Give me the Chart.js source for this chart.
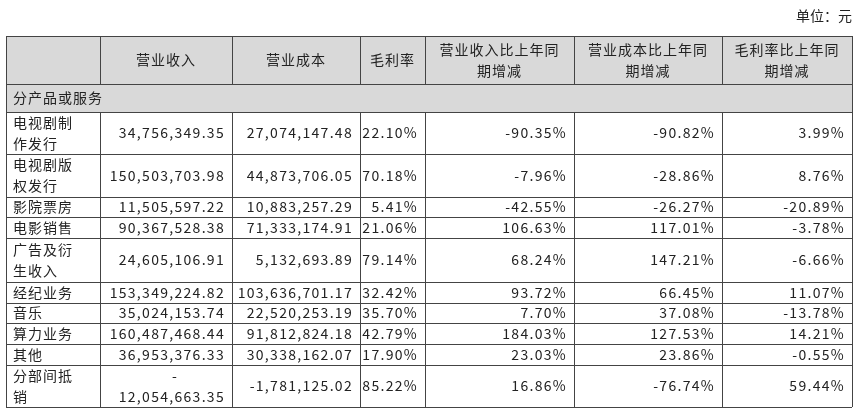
<!DOCTYPE html>
<html><head><meta charset="utf-8">
<script src="https://cdn.jsdelivr.net/npm/chart.js@4"></script>
<style>html,body{margin:0;padding:0;background:#fff}</style>
</head><body>
<canvas id="c" width="865" height="415"></canvas>
<script>
const headers = ["", "营业收入", "营业成本", "毛利率", "营业收入比上年同\n期增减", "营业成本比上年同\n期增减", "毛利率比上年同\n期增减"];
const sectionLabel = "分产品或服务";
const unitLabel = "单位：元";
const categories = ["电视剧制\n作发行", "电视剧版\n权发行", "影院票房", "电影销售", "广告及衍\n生收入", "经纪业务", "音乐", "算力业务", "其他", "分部间抵\n销"];
const revenue = ["34,756,349.35", "150,503,703.98", "11,505,597.22", "90,367,528.38", "24,605,106.91", "153,349,224.82", "35,024,153.74", "160,487,468.44", "36,953,376.33", "-\n12,054,663.35"];
const cost = ["27,074,147.48", "44,873,706.05", "10,883,257.29", "71,333,174.91", "5,132,693.89", "103,636,701.17", "22,520,253.19", "91,812,824.18", "30,338,162.07", "-1,781,125.02"];
const margin = ["22.10%", "70.18%", "5.41%", "21.06%", "79.14%", "32.42%", "35.70%", "42.79%", "17.90%", "85.22%"];
const revChg = ["-90.35%", "-7.96%", "-42.55%", "106.63%", "68.24%", "93.72%", "7.70%", "184.03%", "23.03%", "16.86%"];
const costChg = ["-90.82%", "-28.86%", "-26.27%", "117.01%", "147.21%", "66.45%", "37.08%", "127.53%", "23.86%", "-76.74%"];
const marginChg = ["3.99%", "8.76%", "-20.89%", "-3.78%", "-6.66%", "11.07%", "-13.78%", "14.21%", "-0.55%", "59.44%"];

const colEdges = [6, 100, 232, 360, 425, 574, 722, 852];
const rowEdges = [36, 84, 112, 154, 197, 217, 238, 282, 303, 323, 344, 365, 407];
const FONT = '14px "Noto Sans CJK SC", "Noto Sans", sans-serif';

const tablePlugin = {
  id: 'table',
  afterDraw(chart) {
    const ctx = chart.ctx, X = chart.scales.x, Y = chart.scales.y;
    const px = v => X.getPixelForValue(v), py = v => Y.getPixelForValue(v);
    ctx.save();
    ctx.font = FONT; ctx.fillStyle = '#222'; ctx.textBaseline = 'middle';
    ctx.textAlign = 'right'; ctx.fillText(unitLabel, px(852), py(16));
    ctx.fillStyle = '#d9d9d9';
    ctx.fillRect(px(colEdges[0]), py(rowEdges[0]), px(colEdges[7]) - px(colEdges[0]), py(rowEdges[2]) - py(rowEdges[0]));
    const cell = (txt, c0, c1, r0, r1, align, num) => {
      const lines = String(txt).split('\n'), lh = 21;
      const cy = (py(r0) + py(r1)) / 2 - (lines.length - 1) * lh / 2;
      ctx.fillStyle = '#222';
      ctx.letterSpacing = num ? '1.3px' : '1px';
      lines.forEach((l, i) => {
        let x;
        if (align === 'left') { ctx.textAlign = 'left'; x = px(c0) + 7; }
        else if (align === 'right') { ctx.textAlign = 'right'; x = px(c1) - 7; }
        else { ctx.textAlign = 'center'; x = (px(c0) + px(c1)) / 2; }
        ctx.fillText(l, x, cy + i * lh);
      });
      ctx.letterSpacing = '0px';
    };
    headers.forEach((h, i) => cell(h, colEdges[i], colEdges[i + 1], rowEdges[0], rowEdges[1], 'center'));
    cell(sectionLabel, colEdges[0], colEdges[7], rowEdges[1], rowEdges[2], 'left');
    const cols = [categories, revenue, cost, margin, revChg, costChg, marginChg];
    categories.forEach((_, r) => {
      cols.forEach((arr, c) => {
        const t = arr[r];
        const r0 = rowEdges[r + 2], r1 = rowEdges[r + 3];
        if (c === 1 && t.indexOf('\n') >= 0) {
          const lines = t.split('\n');
          const cy = (py(r0) + py(r1)) / 2;
          ctx.fillStyle = '#222'; ctx.letterSpacing = '1.3px';
          ctx.textAlign = 'center';
          ctx.fillText(lines[0], px(colEdges[2]) - 57, cy - 10);
          ctx.textAlign = 'right'; ctx.fillText(lines[1], px(colEdges[2]) - 7, cy + 11);
          ctx.letterSpacing = '0px';
        } else {
          cell(t, colEdges[c], colEdges[c + 1], r0, r1, c === 0 ? 'left' : 'right', c > 0);
        }
      });
    });
    ctx.strokeStyle = '#444'; ctx.lineWidth = 1;
    ctx.beginPath();
    rowEdges.forEach(y => { ctx.moveTo(px(colEdges[0]), py(y) + 0.5); ctx.lineTo(px(colEdges[7]), py(y) + 0.5); });
    colEdges.forEach((x, i) => {
      const top = py(rowEdges[0]), bot = py(rowEdges[rowEdges.length - 1]);
      if (i === 0 || i === colEdges.length - 1) { ctx.moveTo(px(x) + 0.5, top); ctx.lineTo(px(x) + 0.5, bot); }
      else {
        ctx.moveTo(px(x) + 0.5, top); ctx.lineTo(px(x) + 0.5, py(rowEdges[1]));
        ctx.moveTo(px(x) + 0.5, py(rowEdges[2])); ctx.lineTo(px(x) + 0.5, bot);
      }
    });
    ctx.stroke();
    ctx.restore();
  }
};

new Chart(document.getElementById('c'), {
  type: 'scatter',
  data: { datasets: [{ data: [] }] },
  options: {
    responsive: false, animation: false,
    layout: { padding: 0 },
    plugins: { legend: { display: false }, tooltip: { enabled: false } },
    scales: {
      x: { type: 'linear', min: 0, max: 865, display: false },
      y: { type: 'linear', min: 0, max: 415, reverse: true, display: false }
    }
  },
  plugins: [tablePlugin]
});
</script>
</body></html>
